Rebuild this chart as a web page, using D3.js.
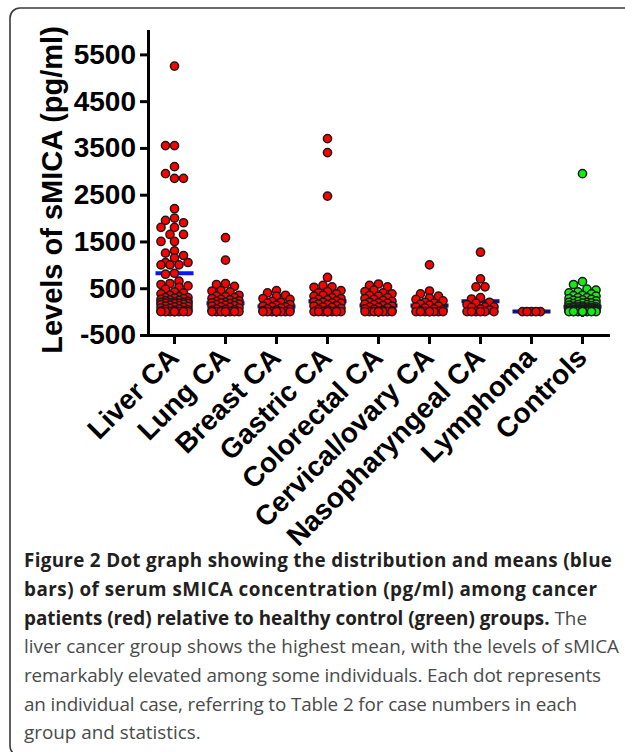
<!DOCTYPE html>
<html>
<head>
<meta charset="utf-8">
<script src="https://cdn.jsdelivr.net/npm/d3@7"></script>
<style>
  body { margin: 0; background: #fff; }
  svg { display: block; }
</style>
</head>
<body>
<svg id="chart" width="625" height="752"></svg>
<script>
// groups on the x axis
var groups = ["Liver CA", "Lung CA", "Breast CA", "Gastric CA", "Colorectal CA",
  "Cervical/ovary CA", "Nasopharyngeal CA", "Lymphoma", "Controls"];

// sMICA levels (pg/ml)
var liverCA = [5250, 3550, 3550, 3100, 2950, 2850, 2850, 2200, 2000, 1950, 1900, 1800, 1800,
  1650, 1650, 1500, 1500, 1300, 1250, 1200, 1150, 1050, 1050, 1000, 1000, 1000, 820, 800,
  650, 600, 580, 550, 520, 480, 420, 400, 380, 350, 320, 300, 300, 290, 280, 260, 250, 240,
  230, 220, 210, 200, 200, 190, 180, 180, 175, 170, 160, 150, 140, 130, 120, 110, 100, 90,
  80, 70, 60, 50, 40, 30, 20, 10, 0, 0, 0, 0, 0, 0, 0, 0];
var lungCA = [1580, 1100, 600, 580, 540, 450, 440, 420, 350, 330, 320, 300, 280, 260, 250,
  230, 220, 200, 200, 190, 180, 170, 160, 150, 140, 130, 120, 100, 90, 80, 60, 50, 40, 30,
  20, 0, 0, 0, 0, 0, 0, 0, 0, 0];
var breastCA = [450, 400, 350, 330, 280, 260, 220, 200, 180, 150, 140, 120, 100, 100, 80,
  60, 50, 40, 20, 0, 0, 0, 0, 0, 0, 0, 0, 0];
var gastricCA = [3700, 3400, 2470, 730, 560, 530, 520, 450, 430, 400, 380, 350, 330, 300,
  280, 260, 250, 230, 210, 200, 190, 180, 160, 150, 130, 120, 100, 90, 70, 50, 40, 20,
  0, 0, 0, 0, 0, 0, 0, 0, 0];
var colorectalCA = [590, 560, 530, 460, 430, 400, 380, 350, 330, 300, 280, 260, 240, 220,
  200, 190, 180, 160, 150, 130, 120, 100, 90, 80, 60, 50, 30, 20, 0, 0, 0, 0, 0, 0, 0, 0, 0, 0];
var cervicalCA = [1000, 440, 380, 330, 290, 260, 230, 200, 180, 160, 140, 120, 100, 80, 60,
  40, 20, 0, 0, 0, 0, 0, 0, 0, 0];
var nasoCA = [1270, 700, 530, 530, 300, 270, 200, 180, 150, 100, 100, 90, 60, 40,
  0, 0, 0, 0, 0, 0];
var lymphoma = [0, 0, 0, 0, 0];
var controls = [2950, 640, 580, 480, 460, 420, 400, 380, 350, 340, 330, 300, 300, 280, 260,
  250, 240, 230, 220, 200, 200, 190, 180, 170, 160, 150, 150, 140, 130, 120, 110, 100, 100,
  95, 90, 85, 80, 80, 75, 70, 65, 60, 60, 55, 50, 50, 45, 40, 40, 35, 30, 30, 25, 20, 20,
  15, 10, 10, 5, 5, 0, 0, 0, 0, 0, 0, 0, 0, 0, 0, 0, 0, 0, 0, 0, 0];

var groupValues = [liverCA, lungCA, breastCA, gastricCA, colorectalCA, cervicalCA, nasoCA, lymphoma, controls];

// group means (blue bars)
var means = [820, 180, 110, 220, 130, 130, 220, 0, 105];

var yTicks = [-500, 500, 1500, 2500, 3500, 4500, 5500];

var captionLines = [
  [["Figure 2 Dot graph showing the distribution and means (blue", true]],
  [["bars) of serum sMICA concentration (pg/ml) among cancer", true]],
  [["patients (red) relative to healthy control (green) groups.", true], [" The", false]],
  [["liver cancer group shows the highest mean, with the levels of sMICA", false]],
  [["remarkably elevated among some individuals. Each dot represents", false]],
  [["an individual case, referring to Table 2 for case numbers in each", false]],
  [["group and statistics.", false]]
];
// right end of each caption line in the reference, 0 = natural width
var captionEnds = [612, 597, 587, 619, 601, 577, 0];

var svg = d3.select("#chart");

// panel frame
svg.append("rect")
  .attr("x", 10).attr("y", 8)
  .attr("width", 720).attr("height", 748)
  .attr("rx", 10)
  .attr("fill", "none")
  .attr("stroke", "#3a3a3a")
  .attr("stroke-width", 1.6);

var x = d3.scaleBand().domain(groups).range([149, 608]);
var y = d3.scaleLinear().domain([-500, 6000]).range([335, 31]);

var axisFont = "'Liberation Sans', Arial, sans-serif";

// y axis
var yAxis = svg.append("g")
  .attr("transform", "translate(148,0)")
  .call(d3.axisLeft(y).tickValues(yTicks).tickSize(8).tickPadding(4).tickSizeOuter(0)
    .tickFormat(function(d) { return String(d); }));
yAxis.select(".domain").attr("stroke-width", 3).attr("stroke-linecap", "square");
yAxis.selectAll(".tick line").attr("stroke-width", 3);
yAxis.selectAll("text")
  .attr("font-family", axisFont).attr("font-weight", "bold")
  .attr("font-size", 28).attr("fill", "#000");

// x axis
var xAxis = svg.append("g")
  .attr("transform", "translate(0,335)")
  .call(d3.axisBottom(x).tickSize(9).tickSizeOuter(0));
xAxis.select(".domain").attr("stroke-width", 3).attr("stroke-linecap", "square");
xAxis.selectAll(".tick line").attr("stroke-width", 3);
xAxis.selectAll("text")
  .attr("font-family", axisFont).attr("font-weight", "bold")
  .attr("font-size", 28).attr("fill", "#000")
  .attr("text-anchor", "end")
  .attr("transform", "rotate(-45)")
  .attr("x", -13).attr("y", 6).attr("dy", "0.55em");

// y title
svg.append("text")
  .attr("transform", "translate(62,190) rotate(-90)")
  .attr("text-anchor", "middle")
  .attr("font-family", axisFont).attr("font-weight", "bold")
  .attr("font-size", 29)
  .text("Levels of sMICA (pg/ml)");

// column scatter layout: dots spread sideways in half-diameter steps
var r = 4.1, diam = 8.5, step = 4.5;
var offsets = [0, -1, 1, -2, 2, -3, 3];
function swarm(vals, cx) {
  var placed = [];
  vals.slice().sort(function(a, b) { return b - a; }).forEach(function(v) {
    var py = y(v), best = cx, bestD = -1;
    for (var i = 0; i < offsets.length; i++) {
      var px = cx + offsets[i] * step;
      var dmin = Infinity;
      placed.forEach(function(p) {
        var d = Math.hypot(p.x - px, p.y - py);
        if (d < dmin) dmin = d;
      });
      if (dmin >= diam) { best = px; break; }
      if (dmin > bestD + 0.01) { bestD = dmin; best = px; }
    }
    placed.push({ x: best, y: py, v: v });
  });
  return placed;
}

var plot = svg.append("g");
groups.forEach(function(g, i) {
  var cx = x(g) + x.bandwidth() / 2;
  // mean bar
  plot.append("line")
    .attr("x1", cx - 19).attr("x2", cx + 19)
    .attr("y1", y(means[i])).attr("y2", y(means[i]))
    .attr("stroke", i < 3 ? "#0a14ff" : "#12127a")
    .attr("stroke-width", 4);
  plot.append("g").selectAll("circle")
    .data(swarm(groupValues[i], cx))
    .join("circle")
    .attr("cx", function(d) { return d.x; })
    .attr("cy", function(d) { return d.y; })
    .attr("r", r)
    .attr("fill", g === "Controls" ? "#10ee10" : "#ff0000")
    .attr("stroke", "#1a1a1a")
    .attr("stroke-width", 1.5);
});

// caption
var cap = svg.append("g").attr("font-family", "'Open Sans', 'Noto Sans', sans-serif");
var baselines = [567, 596, 625, 653, 682, 711, 739];
var lines = captionLines.map(function(parts, i) {
  var t = cap.append("text").attr("x", 24).attr("y", baselines[i]).attr("font-size", 18);
  parts.forEach(function(p) {
    t.append("tspan")
      .attr("font-weight", p[1] ? 700 : 400)
      .attr("fill", p[1] ? "#231f20" : "#4a4a4a")
      .text(p[0]);
  });
  return t;
});
// fit the font size to the width of the longest plain line
var w = lines[3].node().getComputedTextLength();
var fs = 18 * 594 / w;
lines.forEach(function(t, i) {
  t.attr("font-size", fs);
  if (captionEnds[i]) t.attr("textLength", captionEnds[i] - 24).attr("lengthAdjust", "spacing");
});
</script>
</body>
</html>
